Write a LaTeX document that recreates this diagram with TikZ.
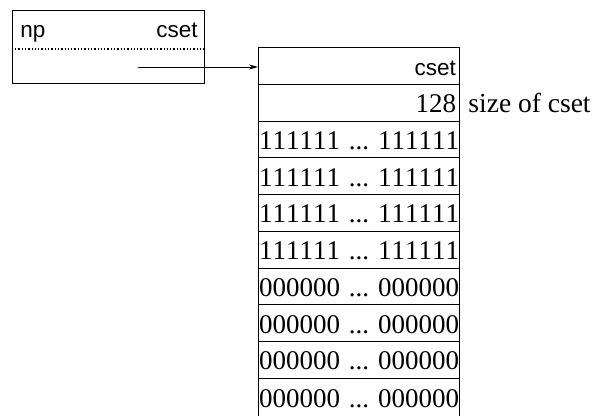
\documentclass[tikz,border=0pt]{standalone}
\usepackage{fontspec}
\setmainfont[Kerning=Off]{Liberation Serif}
\newfontfamily\hv{Liberation Sans}
\usetikzlibrary{arrows.meta}
\begin{document}
\begin{tikzpicture}[x=1pt,y=-1pt,line width=0.9pt,
  rowbox/.style={draw,anchor=north west,outer sep=0pt,minimum width=201pt,minimum height=36.75pt,
    text width=199pt,align=right,inner xsep=1pt,inner ysep=0pt,text height=20pt,text depth=0pt,
    font=\fontsize{27}{30}\selectfont},
  sanstxt/.style={font=\hv\fontsize{22.5}{25}\selectfont,inner sep=0pt},
  sertxt/.style={font=\fontsize{27.5}{30}\selectfont,inner sep=0pt}]
\useasboundingbox (0,0) rectangle (594,415);
% left box
\node[draw,anchor=north west,outer sep=0pt,minimum width=192pt,minimum height=73pt,inner sep=0pt] (L) at (12,10) {};
\node[sanstxt,anchor=base west] (np) at (20,37) {np};
\node[sanstxt,anchor=base east] (cs) at (198,37) {cset};
\coordinate (d1) at (15,49);
\coordinate (d2) at (204,49);
\draw[line width=1.3pt,dash pattern=on 1.3pt off 2pt] (d1) -- (d2);
% big table
\node[rowbox,font=\hv\fontsize{22.5}{25}\selectfont,inner xsep=3pt,text width=195pt] (r1) at (258,47.5) {cset};
\node[rowbox,inner xsep=3pt,text width=195pt] (r2) at (r1.south west) {128};
\node[rowbox] (r3) at (r2.south west) {111111~...~111111};
\node[rowbox] (r4) at (r3.south west) {111111~...~111111};
\node[rowbox] (r5) at (r4.south west) {111111~...~111111};
\node[rowbox] (r6) at (r5.south west) {111111~...~111111};
\node[rowbox] (r7) at (r6.south west) {000000~...~000000};
\node[rowbox] (r8) at (r7.south west) {000000~...~000000};
\node[rowbox] (r9) at (r8.south west) {000000~...~000000};
\node[rowbox,minimum height=39pt] (r10) at (r9.south west) {000000~...~000000};
\node[sertxt,anchor=base west] (sz) at (468,112) {size of cset};
% pointer
\coordinate (a) at (138,67);
\draw[-{Stealth[length=9pt,width=5pt]},line width=0.8pt] (a) -- (a -| r1.west);
\end{tikzpicture}
\end{document}
